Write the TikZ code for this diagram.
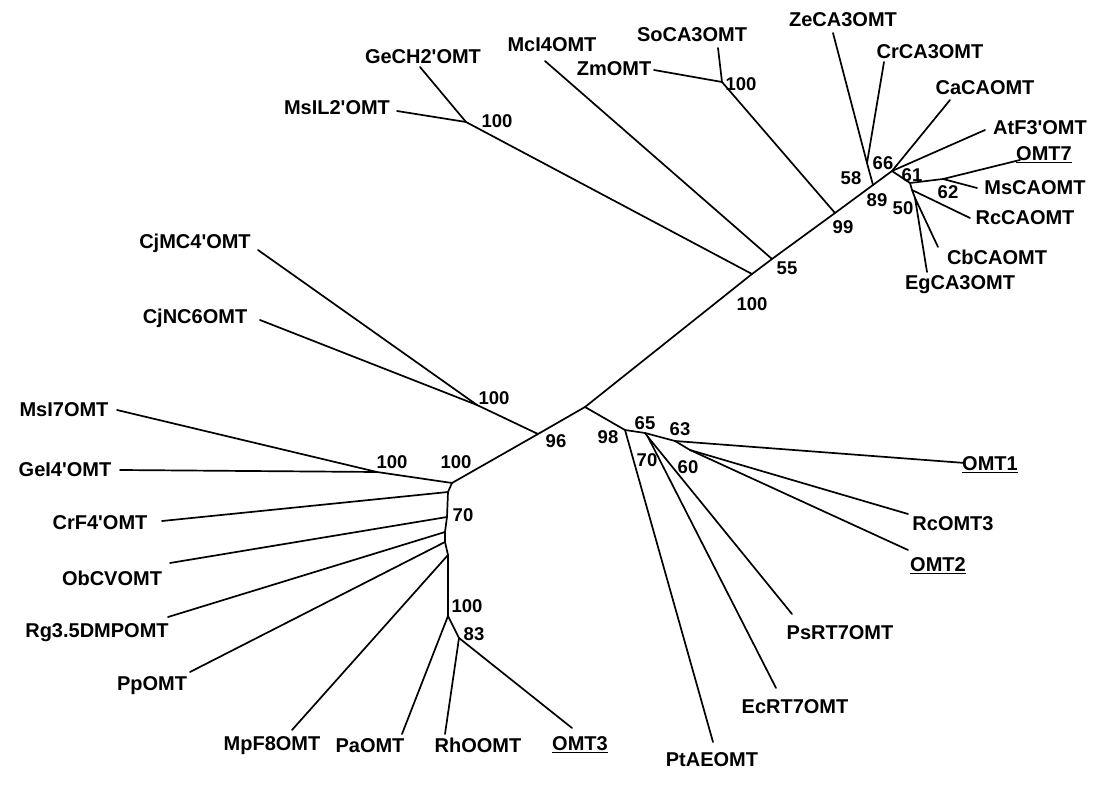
\documentclass[tikz,border=0pt]{standalone}
\usepackage{fontspec}
\setmainfont{Liberation Sans}
\newcommand{\ap}{\textquotesingle}
\begin{document}
\begin{tikzpicture}[x=1pt,y=-1pt,
  br/.style={line width=1.7pt, line cap=round, line join=round},
  leaf/.style={font=\bfseries\fontsize{20}{23}\selectfont, inner sep=0pt},
  bs/.style={font=\bfseries\fontsize{18.5}{21}\selectfont, inner sep=0pt}]
\useasboundingbox (0,0) rectangle (1095,786);
% internal nodes
\coordinate (nbl) at (452,483);
\coordinate (n96) at (538,434);
\coordinate (n98) at (585,407);
\coordinate (nj1) at (752,274);
\coordinate (n55) at (772,259);
\coordinate (n99) at (835,213);
\coordinate (n89) at (873,185);
\coordinate (n66) at (892,171);
\coordinate (n58) at (867,163);
\coordinate (n61) at (910,183);
\coordinate (n62) at (943,179);
\coordinate (n50) at (912,190);
\coordinate (ncb) at (915,198);
\coordinate (nsz) at (722,82);
\coordinate (nmsil) at (466,122);
\coordinate (ncj) at (477,405);
\coordinate (n98b) at (625,430);
\coordinate (n65) at (645,433);
\coordinate (n70) at (648,437);
\coordinate (n63) at (675,441);
\coordinate (n60) at (690,450);
\coordinate (nmg) at (377,472);
\coordinate (nc1) at (448,492);
\coordinate (nc2) at (447,517);
\coordinate (nc3) at (445,532);
\coordinate (nc4) at (445,542);
\coordinate (nc5) at (448,555);
\coordinate (n100c) at (448,616);
\coordinate (n83) at (459,638);
% leaf ends
\coordinate (eMcI4) at (545,61);
\coordinate (eSo) at (718,48);
\coordinate (eZm) at (654,70);
\coordinate (eZe) at (833,33);
\coordinate (eCr) at (884,62);
\coordinate (eCa) at (950,100);
\coordinate (eAt) at (985,130);
\coordinate (eO7) at (1020,160);
\coordinate (eMsCA) at (977,188);
\coordinate (eRcCA) at (970,218);
\coordinate (eCb) at (938,247);
\coordinate (eEg) at (927,272);
\coordinate (eGe) at (420,67);
\coordinate (eMsIL) at (397,111);
\coordinate (eCjM) at (258,250);
\coordinate (eCjN) at (260,320);
\coordinate (eMsI7) at (117,410);
\coordinate (eGeI) at (120,470);
\coordinate (eCrF) at (162,521);
\coordinate (eOb) at (170,563);
\coordinate (eRg) at (168,617);
\coordinate (ePp) at (190,672);
\coordinate (eMp) at (292,730);
\coordinate (ePa) at (402,734);
\coordinate (eRh) at (445,734);
\coordinate (eO3) at (572,728);
\coordinate (ePt) at (713,742);
\coordinate (eEc) at (776,688);
\coordinate (ePs) at (792,614);
\coordinate (eO2) at (908,550);
\coordinate (eRc3) at (908,514);
\coordinate (eO1) at (965,463);
% branches
\draw[br] (nbl) -- (n96) -- (n98) -- (nj1) -- (n55) -- (n99) -- (n89) -- (n66);
\draw[br] (nj1) -- (nmsil);
\draw[br] (nmsil) -- (eGe);
\draw[br] (nmsil) -- (eMsIL);
\draw[br] (n55) -- (eMcI4);
\draw[br] (n99) -- (nsz);
\draw[br] (nsz) -- (eSo);
\draw[br] (nsz) -- (eZm);
\draw[br] (n89) -- (n58);
\draw[br] (n58) -- (eZe);
\draw[br] (n58) -- (eCr);
\draw[br] (n66) -- (eCa);
\draw[br] (n66) -- (eAt);
\draw[br] (n66) -- (n61);
\draw[br] (n61) -- (n62);
\draw[br] (n62) -- (eO7);
\draw[br] (n62) -- (eMsCA);
\draw[br] (n61) -- (n50);
\draw[br] (n50) -- (eRcCA);
\draw[br] (n50) -- (ncb);
\draw[br] (ncb) -- (eCb);
\draw[br] (ncb) -- (eEg);
\draw[br] (n96) -- (ncj);
\draw[br] (ncj) -- (eCjM);
\draw[br] (ncj) -- (eCjN);
\draw[br] (n98) -- (n98b);
\draw[br] (n98b) -- (ePt);
\draw[br] (n98b) -- (n65);
\draw[br] (n65) -- (n70);
\draw[br] (n70) -- (eEc);
\draw[br] (n70) -- (ePs);
\draw[br] (n65) -- (n63);
\draw[br] (n63) -- (eO1);
\draw[br] (n63) -- (n60);
\draw[br] (n60) -- (eRc3);
\draw[br] (n60) -- (eO2);
\draw[br] (nbl) -- (nmg);
\draw[br] (nmg) -- (eMsI7);
\draw[br] (nmg) -- (eGeI);
\draw[br] (nbl) -- (nc1) -- (nc2) -- (nc3) -- (nc4) -- (nc5) -- (n100c) -- (n83);
\draw[br] (nc1) -- (eCrF);
\draw[br] (nc2) -- (eOb);
\draw[br] (nc3) -- (eRg);
\draw[br] (nc4) -- (ePp);
\draw[br] (nc5) -- (eMp);
\draw[br] (n100c) -- (ePa);
\draw[br] (n83) -- (eRh);
\draw[br] (n83) -- (eO3);
% leaf labels
\node[leaf] (tMcI4) at (552,45) {McI4OMT};
\node[leaf] (tSo) at (692,35) {SoCA3OMT};
\node[leaf] (tZm) at (614,69) {ZmOMT};
\node[leaf] (tZe) at (843,20) {ZeCA3OMT};
\node[leaf] (tCr) at (930,52) {CrCA3OMT};
\node[leaf] (tCa) at (985,88) {CaCAOMT};
\node[leaf] (tAt) at (1040,128) {AtF3\ap OMT};
\node[leaf] (tO7) at (1044,155) {\underline{OMT7}};
\node[leaf] (tMsCA) at (1035,188) {MsCAOMT};
\node[leaf] (tRcCA) at (1025,218) {RcCAOMT};
\node[leaf] (tCb) at (997,257) {CbCAOMT};
\node[leaf] (tEg) at (960,285) {EgCA3OMT};
\node[leaf] (tGe) at (423,57) {GeCH2\ap OMT};
\node[leaf] (tMsIL) at (337,108) {MsIL2\ap OMT};
\node[leaf] (tCjM) at (195,243) {CjMC4\ap OMT};
\node[leaf] (tCjN) at (195,318) {CjNC6OMT};
\node[leaf] (tMsI7) at (64,410) {MsI7OMT};
\node[leaf] (tGeI) at (65,470) {GeI4\ap OMT};
\node[leaf] (tCrF) at (100,523) {CrF4\ap OMT};
\node[leaf] (tOb) at (112,578) {ObCVOMT};
\node[leaf] (tRg) at (97,633) {Rg3.5DMPOMT};
\node[leaf] (tPp) at (152,686) {PpOMT};
\node[leaf] (tMp) at (272,746) {MpF8OMT};
\node[leaf] (tPa) at (370,746) {PaOMT};
\node[leaf] (tRh) at (478,745) {RhOOMT};
\node[leaf] (tO3) at (580,745) {\underline{OMT3}};
\node[leaf] (tPt) at (712,760) {PtAEOMT};
\node[leaf] (tEc) at (795,707) {EcRT7OMT};
\node[leaf] (tPs) at (840,633) {PsRT7OMT};
\node[leaf] (tO2) at (938,566) {\underline{OMT2}};
\node[leaf] (tRc3) at (953,524) {RcOMT3};
\node[leaf] (tO1) at (990,465) {\underline{OMT1}};
% bootstrap values
\node[bs] (bSZ) at (741,84) {100};
\node[bs] (bMS) at (497,121) {100};
\node[bs] (b55) at (787,268) {55};
\node[bs] (bB100) at (752,304) {100};
\node[bs] (b99) at (843,227) {99};
\node[bs] (b58) at (851,178) {58};
\node[bs] (b66) at (883,163) {66};
\node[bs] (b89) at (877,200) {89};
\node[bs] (b61) at (912,175) {61};
\node[bs] (b62) at (948,192) {62};
\node[bs] (b50) at (903,208) {50};
\node[bs] (bCj) at (494,398) {100};
\node[bs] (b96) at (556,441) {96};
\node[bs] (b98) at (608,437) {98};
\node[bs] (b65) at (645,423) {65};
\node[bs] (b63) at (680,429) {63};
\node[bs] (b70a) at (647,460) {70};
\node[bs] (b60) at (688,467) {60};
\node[bs] (bMG) at (392,462) {100};
\node[bs] (bBL) at (456,462) {100};
\node[bs] (b70b) at (463,515) {70};
\node[bs] (bC100) at (467,606) {100};
\node[bs] (b83) at (474,634) {83};
\end{tikzpicture}
\end{document}
